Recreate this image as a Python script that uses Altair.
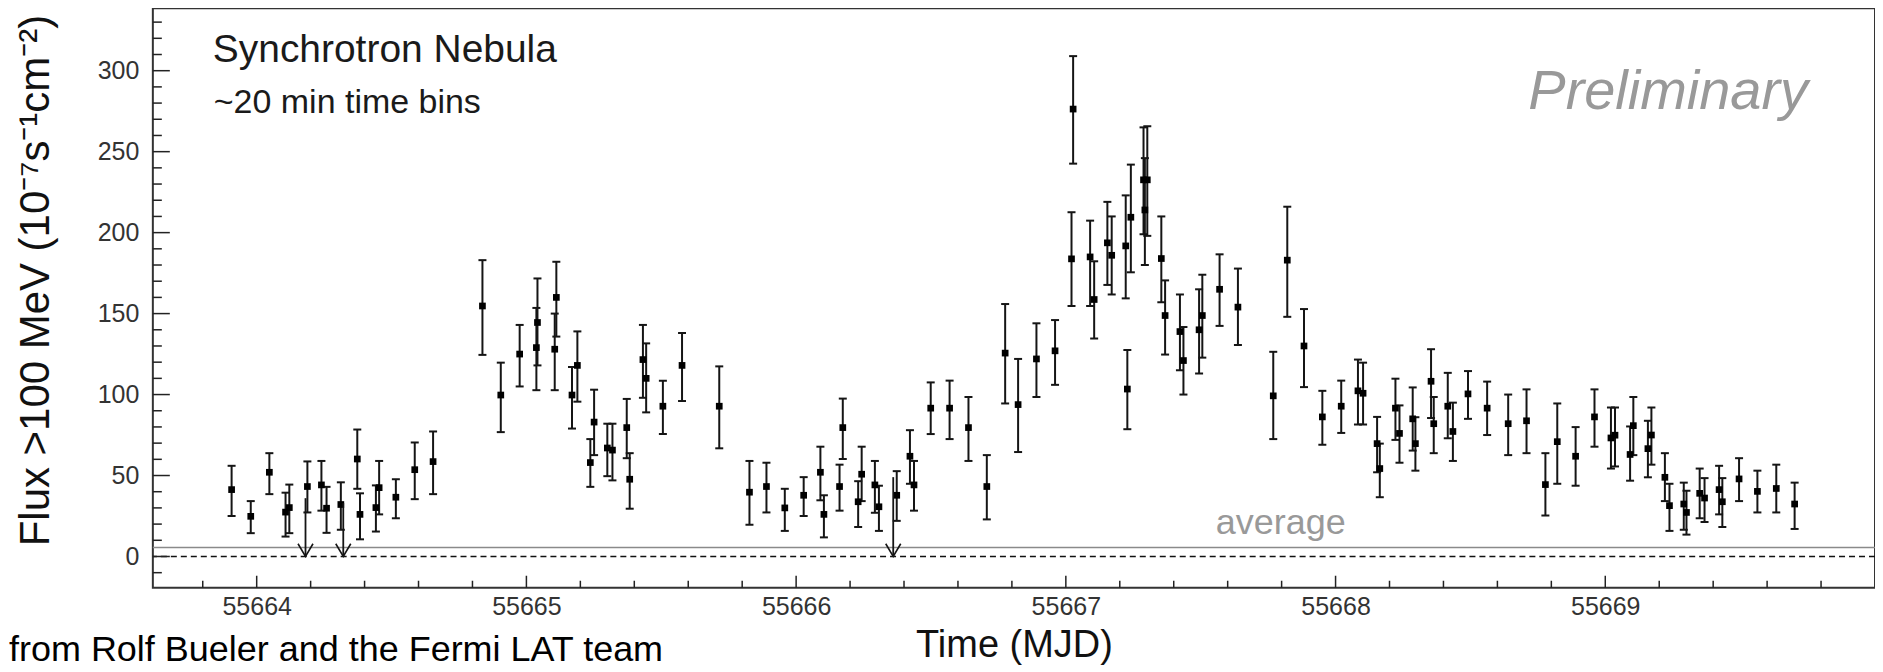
import altair as alt
import pandas as pd

# ---- data ----
mjd = [55663.907, 55663.978, 55664.047, 55664.107, 55664.121, 55664.188, 55664.240, 55664.259,
       55664.312, 55664.373, 55664.383, 55664.442, 55664.454, 55664.516, 55664.586, 55664.654,
       55664.837, 55664.905, 55664.975, 55665.037, 55665.041, 55665.105, 55665.111, 55665.169,
       55665.189, 55665.237, 55665.251, 55665.300, 55665.319, 55665.372, 55665.383, 55665.432,
       55665.444, 55665.506, 55665.577, 55665.715, 55665.827, 55665.890, 55665.958, 55666.028,
       55666.090, 55666.103, 55666.161, 55666.173, 55666.230, 55666.243, 55666.292, 55666.307,
       55666.373, 55666.422, 55666.437, 55666.499, 55666.569, 55666.639, 55666.707, 55666.775,
       55666.823, 55666.891, 55666.960, 55667.021, 55667.027, 55667.090, 55667.105, 55667.154,
       55667.170, 55667.222, 55667.228, 55667.241, 55667.288, 55667.293, 55667.302, 55667.354,
       55667.368, 55667.423, 55667.436, 55667.494, 55667.506, 55667.570, 55667.638, 55667.769,
       55667.821, 55667.883, 55667.951, 55668.021, 55668.083, 55668.102, 55668.154, 55668.164,
       55668.222, 55668.237, 55668.286, 55668.296, 55668.354, 55668.364, 55668.416, 55668.435,
       55668.491, 55668.562, 55668.640, 55668.708, 55668.778, 55668.822, 55668.890, 55668.960,
       55669.021, 55669.036, 55669.092, 55669.104, 55669.158, 55669.171, 55669.221, 55669.238,
       55669.291, 55669.301, 55669.350, 55669.368, 55669.422, 55669.434, 55669.496, 55669.564,
       55669.634, 55669.702]
flux = [41.3, 24.8, 52.0, 27.4, 30.2, 43.2, 44.2, 29.8,
        32.1, 60.2, 26.0, 30.2, 42.5, 36.6, 53.6, 58.6,
        154.7, 99.7, 125.0, 129.0, 144.5, 128.0, 160.0, 99.7,
        118.0, 58.0, 83.0, 67.0, 65.7, 79.6, 47.7, 121.6,
        110.0, 92.8, 118.0, 92.8, 39.7, 43.2, 30.0, 37.8,
        52.0, 26.0, 43.2, 79.6, 33.8, 50.8, 44.2, 30.7,
        37.8, 61.9, 44.2, 91.6, 91.6, 79.6, 43.2, 125.6,
        93.8, 122.0, 127.0, 183.8, 276.3, 185.0, 158.7, 193.7,
        186.0, 191.8, 103.4, 209.5, 232.6, 214.0, 232.6, 184.0,
        148.8, 138.9, 121.0, 140.0, 148.8, 165.0, 154.0, 99.2,
        183.0, 130.0, 86.2, 92.8, 102.3, 100.8, 69.7, 54.3,
        91.6, 76.0, 85.0, 69.7, 108.2, 82.0, 92.8, 77.2,
        100.4, 91.6, 82.0, 83.8, 44.4, 70.9, 61.9, 86.2,
        73.2, 74.9, 63.0, 80.8, 66.6, 75.0, 48.9, 31.4,
        32.4, 27.2, 39.0, 36.1, 41.3, 33.8, 47.9, 40.2,
        42.0, 32.4]
flux_lo = [25.0, 14.4, 38.5, 12.3, 14.4, 27.2, 28.3, 14.6,
           16.5, 41.8, 10.6, 15.4, 26.0, 23.6, 35.4, 38.5,
           124.5, 76.8, 105.0, 102.7, 118.0, 102.7, 135.8, 79.0,
           95.6, 43.0, 62.6, 49.6, 47.0, 60.7, 29.5, 98.0,
           89.0, 75.6, 96.0, 66.8, 19.6, 27.2, 15.8, 25.0,
           34.7, 11.8, 28.3, 60.2, 18.2, 34.2, 27.0, 15.8,
           22.0, 44.9, 28.3, 75.6, 72.5, 59.0, 22.9, 94.5,
           64.5, 98.5, 106.0, 154.7, 242.6, 154.7, 134.6, 167.7,
           161.8, 159.4, 78.6, 175.5, 199.0, 180.0, 198.0, 157.0,
           124.7, 115.0, 100.0, 113.0, 122.8, 142.4, 130.6, 72.5,
           148.0, 104.6, 69.0, 76.3, 81.5, 81.5, 52.0, 36.6,
           72.0, 57.9, 65.4, 53.0, 85.5, 63.8, 73.0, 59.0,
           85.0, 75.0, 62.6, 63.8, 25.3, 44.9, 43.7, 67.8,
           54.3, 55.6, 46.8, 62.6, 48.9, 56.7, 34.2, 15.8,
           16.5, 13.5, 23.6, 21.3, 26.0, 18.2, 34.2, 27.2,
           27.2, 17.0]
flux_hi = [56.0, 34.2, 63.8, 39.4, 44.4, 58.7, 59.0, 43.0,
           45.8, 78.4, 39.0, 43.9, 59.0, 47.7, 70.4, 77.2,
           183.0, 119.7, 143.0, 153.5, 171.7, 150.0, 182.0, 117.0,
           139.0, 72.5, 103.0, 82.0, 82.0, 97.3, 63.8, 143.0,
           131.6, 108.6, 138.0, 117.4, 59.0, 57.9, 41.8, 49.0,
           67.8, 37.8, 56.7, 97.5, 46.5, 67.8, 59.0, 43.7,
           52.7, 78.0, 59.0, 107.5, 108.6, 98.5, 62.6, 155.9,
           122.0, 144.0, 146.0, 212.6, 309.0, 207.4, 182.3, 219.0,
           210.0, 223.0, 127.5, 242.0, 265.0, 246.0, 265.7, 210.0,
           170.5, 161.8, 141.7, 165.0, 174.0, 186.6, 177.8, 126.4,
           216.0, 152.8, 102.3, 108.6, 121.6, 119.7, 86.2, 69.7,
           109.8, 93.3, 104.4, 86.0, 128.0, 98.5, 113.4, 95.0,
           114.5, 108.0, 100.0, 103.2, 63.8, 94.5, 79.9, 103.2,
           92.0, 92.0, 80.3, 98.5, 83.8, 92.0, 63.8, 44.9,
           45.6, 40.6, 54.3, 48.4, 56.0, 48.4, 60.7, 53.0,
           56.7, 45.6]

ul_mjd = [55664.181, 55664.321, 55666.360]
ul_flux = [36.0, 33.0, 49.0]
average_flux = [5.6]
zero_flux = [0.0]

x_major_ticks = [55664, 55665, 55666, 55667, 55668, 55669]
x_minor_ticks = [55663.8, 55664.2, 55664.4, 55664.6, 55664.8, 55665.2, 55665.4, 55665.6,
                 55665.8, 55666.2, 55666.4, 55666.6, 55666.8, 55667.2, 55667.4, 55667.6,
                 55667.8, 55668.2, 55668.4, 55668.6, 55668.8, 55669.2, 55669.4, 55669.6,
                 55669.8]
y_major_ticks = [0, 50, 100, 150, 200, 250, 300]
y_minor_ticks = [-10, 10, 20, 30, 40, 60, 70, 80, 90, 110, 120, 130, 140, 160, 170, 180,
                 190, 210, 220, 230, 240, 260, 270, 280, 290, 310, 320, 330]

FONT = "Liberation Sans"
W, H = 1724, 580

pts = pd.DataFrame({"mjd": mjd, "flux": flux, "lo": flux_lo, "hi": flux_hi})
uls = pd.DataFrame({"mjd": ul_mjd, "ul": ul_flux, "zero": [0.0] * len(ul_mjd)})

xs = alt.Scale(domain=[55663.615, 55670.0], nice=False, zero=False)
ys = alt.Scale(domain=[-19.3, 338.5], nice=False, zero=False)

x_axis = alt.Axis(values=x_major_ticks, format="d", labelFont=FONT, labelFontSize=25,
                  labelColor="#333333", ticks=False, tickSize=0, domain=False, grid=False,
                  labelPadding=7, labelFlush=False, title="Time (MJD)", titleFont=FONT,
                  titleFontSize=38, titleFontWeight="normal", titleColor="#111111",
                  titleY=69, titleBaseline="alphabetic")
y_axis = alt.Axis(values=y_major_ticks, format="d", labelFont=FONT, labelFontSize=25,
                  labelColor="#333333", ticks=False, tickSize=0, domain=False, grid=False,
                  labelPadding=14, labelFlush=False,
                  title="Flux >100 MeV (10⁻⁷s⁻¹cm⁻²)", titleFont=FONT, titleFontSize=42,
                  titleFontWeight="normal", titleColor="#111111", titleAngle=270,
                  titleX=-117, titleY=272, titleAlign="center", titleBaseline="middle")

base = alt.Chart(pts)

zero_line = alt.Chart(pd.DataFrame({"v": zero_flux})).mark_rule(
    color="#111111", strokeWidth=1.5, strokeDash=[6, 4]
).encode(y=alt.Y("v:Q", scale=ys, axis=y_axis))

avg_line = alt.Chart(pd.DataFrame({"v": average_flux})).mark_rule(
    color="#8a8a8a", strokeWidth=1.5
).encode(y=alt.Y("v:Q", scale=ys))

bars = base.mark_rule(color="#151515", strokeWidth=2).encode(
    x=alt.X("mjd:Q", scale=xs, axis=x_axis),
    y=alt.Y("lo:Q", scale=ys),
    y2="hi:Q",
)
cap_lo = base.mark_tick(orient="horizontal", size=8, thickness=2, color="#151515", opacity=1).encode(
    x=alt.X("mjd:Q", scale=xs), y=alt.Y("lo:Q", scale=ys))
cap_hi = base.mark_tick(orient="horizontal", size=8, thickness=2, color="#151515", opacity=1).encode(
    x=alt.X("mjd:Q", scale=xs), y=alt.Y("hi:Q", scale=ys))
markers = base.mark_square(size=45, color="#000000", opacity=1, filled=True).encode(
    x=alt.X("mjd:Q", scale=xs), y=alt.Y("flux:Q", scale=ys))

ul_lines = alt.Chart(uls).mark_rule(color="#151515", strokeWidth=1.8).encode(
    x=alt.X("mjd:Q", scale=xs), y=alt.Y("zero:Q", scale=ys), y2="ul:Q")
ul_heads = alt.Chart(uls).mark_point(
    shape="M -1 -1.7 L 0 0 L 1 -1.7", size=225, filled=False, color="#151515",
    strokeWidth=1.6, opacity=1
).encode(x=alt.X("mjd:Q", scale=xs), y=alt.Y("zero:Q", scale=ys))

xmaj = alt.Chart(pd.DataFrame({"t": x_major_ticks})).mark_tick(
    orient="vertical", size=12, thickness=1.5, color="#222222", opacity=1
).encode(x=alt.X("t:Q", scale=xs), y=alt.value(H - 6))
xmin = alt.Chart(pd.DataFrame({"t": x_minor_ticks})).mark_tick(
    orient="vertical", size=7, thickness=1.5, color="#222222", opacity=1
).encode(x=alt.X("t:Q", scale=xs), y=alt.value(H - 3.5))
ymaj = alt.Chart(pd.DataFrame({"t": y_major_ticks})).mark_tick(
    orient="horizontal", size=17, thickness=1.5, color="#222222", opacity=1
).encode(y=alt.Y("t:Q", scale=ys), x=alt.value(8.5))
ymin = alt.Chart(pd.DataFrame({"t": y_minor_ticks})).mark_tick(
    orient="horizontal", size=9, thickness=1.5, color="#222222", opacity=1
).encode(y=alt.Y("t:Q", scale=ys), x=alt.value(4.5))


def label(text, x, y, size, color, align="left", style="normal"):
    return alt.Chart(pd.DataFrame({"t": [text]})).mark_text(
        align=align, baseline="alphabetic", font=FONT, fontSize=size, color=color,
        fontStyle=style
    ).encode(x=alt.value(x), y=alt.value(y), text="t:N")


t1 = label("Synchrotron Nebula", 60, 54, 39, "#1a1a1a")
t2 = label("~20 min time bins", 61, 105, 34, "#1a1a1a")
t3 = label("Preliminary", 1657, 101, 56, "#999999", align="right", style="italic")
t4 = label("average", 1064, 526, 36, "#999999")
t5 = label("from Rolf Bueler and the Fermi LAT team", -144, 653, 36, "#000000")

chart = alt.layer(
    zero_line, avg_line, bars, cap_lo, cap_hi, markers, ul_lines, ul_heads,
    xmaj, xmin, ymaj, ymin, t1, t2, t3, t4, t5
).properties(
    width=W, height=H,
    padding={"left": 145, "top": 0, "right": 0, "bottom": 84},
    autosize=alt.AutoSizeParams(type="none"),
).configure_view(stroke="#333333", strokeWidth=2)

chart.save("out.html", embed_options={"renderer": "svg", "actions": False})
